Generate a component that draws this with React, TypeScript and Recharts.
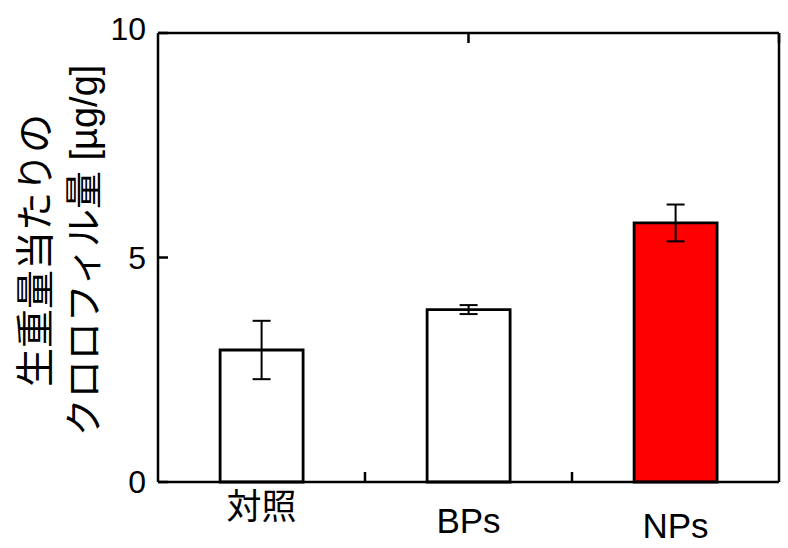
import React from "react";
import { BarChart, Bar, XAxis, YAxis, ErrorBar, Cell } from "recharts";

const categories = ["対照", "BPs", "NPs"];
const values = [2.94, 3.84, 5.77];
const errors = [0.65, 0.1, 0.41];
const fills = ["#ffffff", "#ffffff", "#ff0000"];
const yTicks = [0, 5, 10];
const boundaryTicks = [1, 2];
const yLabelLine1 = "生重量当たりの";
const yLabelLine2 = "クロロフィル量 [µg/g]";

const data = categories.map((c, i) => ({ name: c, value: values[i], err: errors[i] }));

const FONT = "'Liberation Sans', Arial, 'Noto Sans CJK JP', sans-serif";
const TICK_LEN = 10;
const labelDy = [37, 51, 56];

const BottomTick = (props: any) => {
  const { x, y, payload, index } = props;
  const off = payload && typeof payload.offset === "number" ? payload.offset : 0;
  return (
    <g>
      {index < categories.length - 1 && off > 0 ? (
        <line x1={x + off} x2={x + off} y1={y} y2={y - TICK_LEN} stroke="#000" strokeWidth={2.5} />
      ) : null}
      <text x={x} y={y + labelDy[index]} textAnchor="middle" fontSize={35} fontFamily={FONT} fill="#000">
        {payload.value}
      </text>
    </g>
  );
};

const TopTick = (props: any) => {
  const { x, y } = props;
  return <line x1={x} x2={x} y1={y} y2={y + TICK_LEN} stroke="#000" strokeWidth={2.5} />;
};

const LeftTick = (props: any) => {
  const { x, y, payload } = props;
  const dy = payload.value === 10 ? 7 : 11;
  return (
    <g>
      <line x1={x} x2={x + TICK_LEN} y1={y} y2={y} stroke="#000" strokeWidth={2.5} />
      <text x={x - 12} y={y + dy} textAnchor="end" fontSize={32} fontFamily={FONT} fill="#000">
        {payload.value}
      </text>
    </g>
  );
};

const RightTick = (props: any) => {
  const { x, y } = props;
  return <line x1={x} x2={x - TICK_LEN} y1={y} y2={y} stroke="#000" strokeWidth={2.5} />;
};

const YLabel = (props: any) => {
  const vb = props.viewBox || { x: 58, y: 33, width: 100, height: 449 };
  const cy = vb.y + vb.height / 2 - 7;
  const x1 = 35;
  const x2 = 84;
  return (
    <g>
      <text
        x={x1}
        y={cy}
        transform={`rotate(-90, ${x1}, ${cy})`}
        textAnchor="middle"
        dominantBaseline="central"
        fontSize={39}
        fontFamily={FONT}
        fill="#000"
      >
        {yLabelLine1}
      </text>
      <text
        x={x2}
        y={cy}
        transform={`rotate(-90, ${x2}, ${cy})`}
        textAnchor="middle"
        dominantBaseline="central"
        fontSize={38}
        fontFamily={FONT}
        fill="#000"
      >
        {yLabelLine2}
      </text>
    </g>
  );
};

export default function App() {
  return (
    <div style={{ position: "absolute", left: 0, top: 0, width: 788, height: 548, background: "#fff" }}>
      <BarChart
        width={788}
        height={548}
        data={data}
        margin={{ top: 32, right: 8, bottom: 0, left: 0 }}
        barCategoryGap="30%"
      >
        <XAxis
          dataKey="name"
          xAxisId="main"
          type="category"
          height={66}
          axisLine={{ stroke: "#000", strokeWidth: 2.5 }}
          tickLine={false}
          tickSize={0}
          tickMargin={0}
          interval={0}
          tick={<BottomTick />}
        />
        <XAxis
          xAxisId="top"
          orientation="top"
          type="number"
          domain={[0, 3]}
          ticks={boundaryTicks}
          allowDataOverflow
          height={1}
          axisLine={{ stroke: "#000", strokeWidth: 2.5 }}
          tickLine={false}
          tickSize={0}
          tickMargin={0}
          tick={<TopTick />}
        />
        <YAxis
          yAxisId="left"
          domain={[0, 10]}
          ticks={yTicks}
          width={158}
          axisLine={{ stroke: "#000", strokeWidth: 2.5 }}
          tickLine={false}
          tickSize={0}
          tickMargin={0}
          tick={<LeftTick />}
          label={<YLabel />}
        />
        <YAxis
          yAxisId="right"
          orientation="right"
          domain={[0, 10]}
          ticks={yTicks}
          width={1}
          axisLine={{ stroke: "#000", strokeWidth: 2.5 }}
          tickLine={false}
          tickSize={0}
          tickMargin={0}
          tick={<RightTick />}
        />
        <Bar
          dataKey="value"
          xAxisId="main"
          yAxisId="left"
          stroke="#000"
          strokeWidth={2.8}
          isAnimationActive={false}
        >
          {data.map((d, i) => (
            <Cell key={d.name} fill={fills[i]} />
          ))}
          <ErrorBar dataKey="err" width={9} stroke="#000" strokeWidth={2} direction="y" />
        </Bar>
      </BarChart>
    </div>
  );
}
